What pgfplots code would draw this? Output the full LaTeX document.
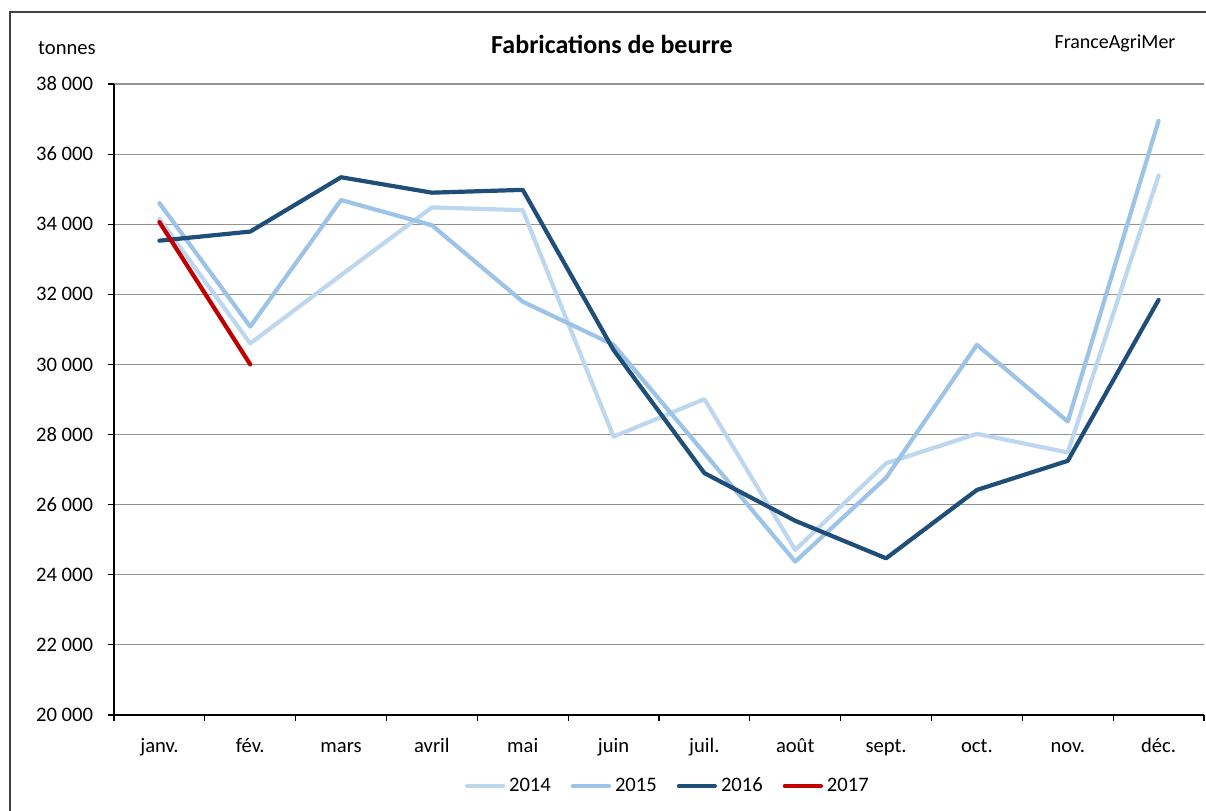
\documentclass[border=0pt]{standalone}
\usepackage{pgfplots}
\pgfplotsset{compat=1.18}
\usepackage{fontspec}
\setmainfont{Carlito}
\definecolor{c14}{HTML}{BDD7EE}
\definecolor{c15}{HTML}{9DC3E6}
\definecolor{c16}{HTML}{1F4E79}
\definecolor{c17}{HTML}{C00000}
\begin{document}
\begin{tikzpicture}
\useasboundingbox (0,0) rectangle (603pt,405pt);
\draw[line width=0.8pt, black!75] (5pt,-10pt) -- (5pt,399pt) -- (620pt,399pt);
\node[font=\fontsize{13}{15}\selectfont\bfseries] at (306pt,383pt) {Fabrications de beurre};
\node[font=\fontsize{10.3}{12}\selectfont] at (33.5pt,381pt) {tonnes};
\node[font=\fontsize{10}{12}\selectfont] at (557.5pt,383.5pt) {FranceAgriMer};
\begin{axis}[
  at={(57pt,47.5pt)}, anchor=south west, scale only axis,
  width=545pt, height=315.5pt,
  xmin=-0.5, xmax=11.5, ymin=20000, ymax=38000,
  axis x line*=bottom, axis y line*=left,
  axis line style={-, black, line width=0.6pt},
  xtick={0,...,11},
  xticklabels={janv.,fév.,mars,avril,mai,juin,juil.,août,sept.,oct.,nov.,déc.},
  major x tick style={draw=none},
  minor xtick={-0.5,0.5,...,11.5},
  tick align=outside,
  major tick length=3pt, minor tick length=3pt,
  tick style={black, line width=0.6pt},
  ytick={20000,22000,...,38000},
  scaled y ticks=false,
  ymajorgrids, grid style={gray!85, line width=0.6pt},
  /pgf/number format/.cd, fixed, 1000 sep={\ }, assume math mode=true,
  /pgfplots/.cd,
  ticklabel style={font=\fontsize{10.3}{12}\selectfont},
  xticklabel style={yshift=-5pt, text height=7pt, text depth=2pt},
  yticklabel style={xshift=-4pt},
  legend style={at={(0.509,-0.1125)}, anchor=center, draw=none,
    legend columns=4, font=\fontsize{10.3}{12}\selectfont,
    /tikz/every even column/.append style={column sep=8pt}},
  legend image code/.code={\draw[#1] (0pt,0pt) -- (18pt,0pt);},
  every axis plot/.append style={line width=2.1pt, line cap=round, line join=round},
]
\addplot[c14] coordinates {(0,34150) (1,30600) (2,32550) (3,34480) (4,34400) (5,27940) (6,29010) (7,24710) (8,27180) (9,28020) (10,27490) (11,35385)};
\addplot[c15] coordinates {(0,34600) (1,31080) (2,34690) (3,33970) (4,31790) (5,30560) (6,27470) (7,24375) (8,26770) (9,30560) (10,28370) (11,36950)};
\addplot[c16] coordinates {(0,33530) (1,33790) (2,35340) (3,34900) (4,34980) (5,30410) (6,26900) (7,25540) (8,24470) (9,26420) (10,27250) (11,31840)};
\addplot[c17] coordinates {(0,34060) (1,30000)};
\legend{2014,2015,2016,2017}
\end{axis}
\end{tikzpicture}
\end{document}
